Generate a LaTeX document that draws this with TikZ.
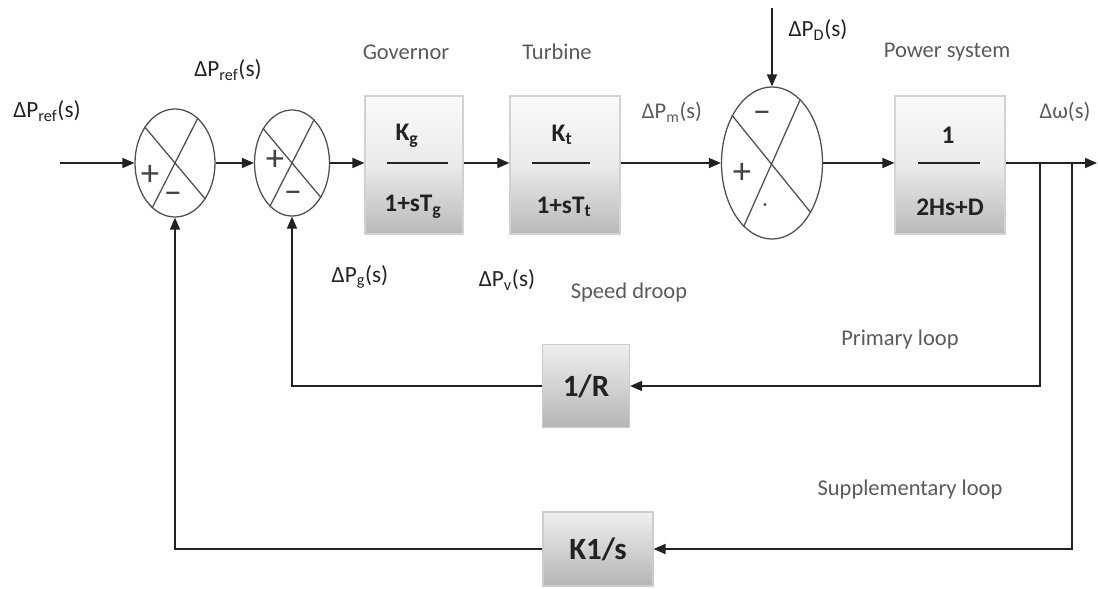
\documentclass[tikz,border=0pt]{standalone}
\usepackage{fontspec}
\setmainfont{Carlito}
\usetikzlibrary{arrows.meta,shapes.geometric}
\definecolor{ink}{HTML}{222222}
\definecolor{txtgray}{HTML}{5A5A5A}
\tikzset{
  arr/.style={-{Triangle[length=3mm,width=2.5mm]},line width=1.2pt,draw=ink},
  ln/.style={line width=1.2pt,draw=ink},
  xln/.style={line width=0.9pt,draw=ink!80},
  sumnode/.style={ellipse,draw=ink!80,line width=0.9pt,inner sep=0pt},
  blk/.style={rectangle,draw=gray!35,line width=0.8pt,top color=gray!4,bottom color=gray!55,middle color=gray!16},
  fbblk/.style={rectangle,draw=gray!40,line width=0.8pt,top color=gray!12,bottom color=gray!58,
    font=\bfseries\fontsize{22}{24}\selectfont,text=ink},
  lbl/.style={text=txtgray,font=\fontsize{16}{18}\selectfont},
  sym/.style={text=ink,font=\fontsize{16.5}{18}\selectfont},
  sgn/.style={font=\fontsize{26}{28}\selectfont,text=ink!85,inner sep=0pt},
  frac/.style={font=\bfseries\fontsize{18}{20}\selectfont,text=ink}
}
\begin{document}
\begin{tikzpicture}[x=0.025cm,y=-0.025cm]
  \useasboundingbox (0,0) rectangle (1098,589);
  \node[sumnode,minimum width=2cm,minimum height=2.7cm] (s1) at (175,163) {};
  \node[sumnode,minimum width=1.875cm,minimum height=2.65cm] (s2) at (292,163) {};
  \node[sumnode,minimum width=2.525cm,minimum height=3.8cm] (s3) at (772,163) {};
  \node[blk,minimum width=2.45cm,minimum height=3.45cm] (gov) at (414,165) {};
  \node[blk,minimum width=2.75cm,minimum height=3.45cm] (tur) at (565,165) {};
  \node[blk,minimum width=2.75cm,minimum height=3.45cm] (pws) at (950,165) {};
  \node[fbblk,minimum width=2.175cm,minimum height=2.075cm] (rr) at (586,386) {1/R};
  \node[fbblk,minimum width=2.75cm,minimum height=1.85cm] (ki) at (598,549) {K1/s};
  \draw[xln] (s1.130) -- (s1.-50) (s1.63) -- (s1.-117);
  \draw[xln] (s2.130) -- (s2.-50) (s2.63) -- (s2.-117);
  \draw[xln] (s3.130) -- (s3.-52) (s3.66) -- (s3.-114);
  \node[sgn] (s1p) at (150,175) {+};
  \node[sgn] (s1m) at (173,198) {–};
  \node[sgn] (s2p) at (275,160) {+};
  \node[sgn] (s2m) at (293,197) {–};
  \node[sgn] (s3m) at (762,117) {–};
  \node[sgn] (s3p) at (742,173) {+};
  \node[sgn,font=\fontsize{14}{14}\selectfont] (s3d) at (765,207) {·};
  \node[frac] (govn) at (407,136) {K\textsubscript{g}};
  \node[frac] (govd) at (413,207) {1+sT\textsubscript{g}};
  \node[frac] (turn) at (562,135) {K\textsubscript{t}};
  \node[frac] (turd) at (564,207) {1+sT\textsubscript{t}};
  \node[frac] (pwsn) at (948,135) {1};
  \node[frac] (pwsd) at (950,207) {2Hs+D};
  \draw[ln] (387,163) -- (448,163);
  \draw[ln] (532,163) -- (590,163);
  \draw[ln] (918,163) -- (980,163);
  \coordinate (in) at (60,163);
  \coordinate (dist) at (772,8);
  \coordinate (out) at (1097,163);
  \coordinate (br1) at (1040,163);
  \coordinate (br2) at (1072,163);
  \draw[arr] (in) -- (s1.west);
  \draw[arr] (s1.east) -- (s2.west);
  \draw[arr] (s2.east) -- (gov.west |- s2.east);
  \draw[arr] (gov.east |- s2.east) -- (tur.west |- s2.east);
  \draw[arr] (tur.east |- s3.west) -- (s3.west);
  \draw[arr] (dist) -- (s3.north);
  \draw[arr] (s3.east) -- (pws.west |- s3.east);
  \draw[arr] (pws.east |- out) -- (out);
  \draw[arr] (br1) |- (rr.east);
  \draw[arr] (rr.west) -| (s2.south);
  \draw[arr] (br2) |- (ki.east);
  \draw[arr] (ki.west) -| (s1.south);
  \node[sym] (lrefa) at (47,111) {ΔP\textsubscript{ref}(s)};
  \node[sym] (lrefb) at (228,70) {ΔP\textsubscript{ref}(s)};
  \node[sym] (lpd) at (818,30) {ΔP\textsubscript{D}(s)};
  \node[sym] (lpg) at (360,277) {ΔP\textsubscript{g}(s)};
  \node[sym] (lpv) at (507,280) {ΔP\textsubscript{v}(s)};
  \node[lbl] (lpm) at (672,112) {ΔP\textsubscript{m}(s)};
  \node[lbl] (lw) at (1065,112) {Δω(s)};
  \node[lbl] (lgov) at (406,52) {Governor};
  \node[lbl] (ltur) at (557,52) {Turbine};
  \node[lbl] (lpws) at (947,52) {Power system};
  \node[lbl] (ldroop) at (629,293) {Speed droop};
  \node[lbl] (lprim) at (900,340) {Primary loop};
  \node[lbl] (lsupp) at (910,490) {Supplementary loop};
\end{tikzpicture}
\end{document}
